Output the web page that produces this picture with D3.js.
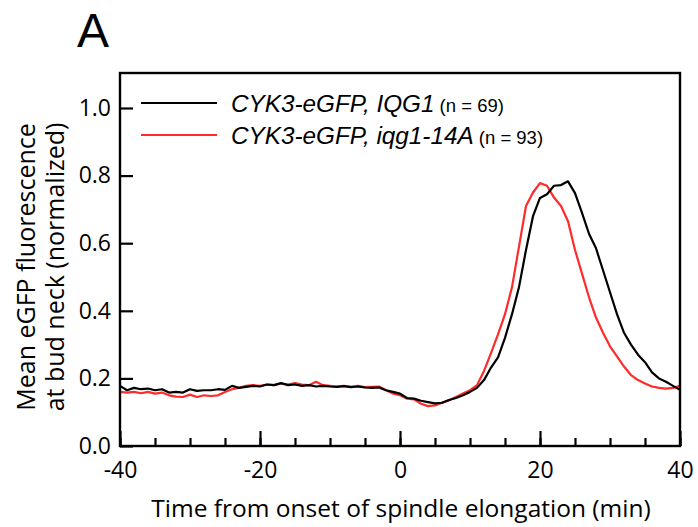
<!DOCTYPE html>
<html>
<head>
<meta charset="utf-8">
<script src="https://cdn.jsdelivr.net/npm/d3@7"></script>
<style>
  body { margin: 0; background: #fff; }
  svg { display: block; }
</style>
</head>
<body>
<div id="chart"></div>
<script>
// time from onset of spindle elongation (min)
var times = d3.range(-40, 41, 1)

// CYK3-eGFP, IQG1 (n = 69)
var wildType = [
	0.178, 0.165, 0.172, 0.168, 0.170, 0.165, 0.168, 0.158, 0.160, 0.158,
	0.168, 0.163, 0.165, 0.165, 0.168, 0.166, 0.178, 0.172, 0.175, 0.178,
	0.176, 0.182, 0.180, 0.186, 0.180, 0.182, 0.178, 0.180, 0.176, 0.178,
	0.176, 0.175, 0.177, 0.174, 0.176, 0.173, 0.172, 0.173, 0.165, 0.160,
	0.155, 0.142, 0.140, 0.134, 0.130, 0.126, 0.128, 0.136, 0.142, 0.150,
	0.160, 0.172, 0.195, 0.232, 0.262, 0.320, 0.390, 0.470, 0.580, 0.680,
	0.734, 0.745, 0.770, 0.772, 0.783, 0.748, 0.690, 0.628, 0.585, 0.520,
	0.455, 0.390, 0.335, 0.300, 0.270, 0.248, 0.218, 0.200, 0.190, 0.178,
	0.166
]

// CYK3-eGFP, iqg1-14A (n = 93)
var mutant = [
	0.160, 0.158, 0.160, 0.156, 0.160, 0.155, 0.158, 0.150, 0.146, 0.145,
	0.152, 0.145, 0.150, 0.148, 0.150, 0.160, 0.168, 0.172, 0.178, 0.180,
	0.178, 0.182, 0.180, 0.185, 0.182, 0.186, 0.182, 0.180, 0.190, 0.180,
	0.178, 0.176, 0.178, 0.175, 0.178, 0.174, 0.175, 0.176, 0.165, 0.155,
	0.150, 0.140, 0.138, 0.125, 0.118, 0.120, 0.128, 0.135, 0.145, 0.155,
	0.165, 0.180, 0.222, 0.275, 0.330, 0.390, 0.470, 0.590, 0.710, 0.750,
	0.778, 0.770, 0.735, 0.710, 0.665, 0.580, 0.510, 0.440, 0.380, 0.335,
	0.295, 0.265, 0.235, 0.210, 0.195, 0.185, 0.176, 0.172, 0.170, 0.172,
	0.178
]

var seriesNames = ["CYK3-eGFP, IQG1", "CYK3-eGFP, iqg1-14A"]
var seriesCounts = ["(n = 69)", "(n = 93)"]
var seriesColors = ["#000000", "#ff2b2b"]

var xTicks = [-40, -20, 0, 20, 40]
var yTicks = [0, 0.2, 0.4, 0.6, 0.8, 1.0]

var chart = {
	width: 698,
	height: 527,
	left: 120,
	right: 680,
	top: 73,
	bottom: 446
}

var svg = d3.select("#chart")
	.append("svg")
	.attr("width", chart.width)
	.attr("height", chart.height)

var x = d3.scaleLinear().domain([-40, 40]).range([chart.left, chart.right])
var y = d3.scaleLinear().domain([0, 1]).range([chart.bottom, 108])

// panel letter
svg.append("text")
	.attr("x", 77)
	.attr("y", 47)
	.attr("font-family", "Liberation Sans, Arial, sans-serif")
	.attr("font-size", 48)
	.text("A")

// lines
var line = d3.line()
	.x(function(d, i) { return x(times[i]) })
	.y(function(d) { return y(d) })

svg.selectAll("path.series")
	.data([mutant, wildType])
	.enter()
	.append("path")
	.attr("class", "series")
	.attr("fill", "none")
	.attr("stroke", function(d, i) { return i == 0 ? seriesColors[1] : seriesColors[0] })
	.attr("stroke-width", 2.2)
	.attr("stroke-linejoin", "round")
	.attr("d", line)

// frame
svg.append("rect")
	.attr("x", chart.left)
	.attr("y", chart.top)
	.attr("width", chart.right - chart.left)
	.attr("height", chart.bottom - chart.top)
	.attr("fill", "none")
	.attr("stroke", "#000")
	.attr("stroke-width", 2.4)

// x axis, ticks pointing inward
var xAxisMinor = d3.axisTop(x)
	.tickValues(d3.range(-40, 41, 5))
	.tickSize(8)
	.tickFormat("")
var xAxis = d3.axisTop(x)
	.tickValues(xTicks)
	.tickSize(15)
	.tickFormat(d3.format("d"))

svg.append("g")
	.attr("transform", "translate(0," + chart.bottom + ")")
	.call(xAxisMinor)
	.call(function(g) { g.select(".domain").remove() })
	.selectAll("line").attr("stroke-width", 2.2)

var gx = svg.append("g")
	.attr("transform", "translate(0," + chart.bottom + ")")
	.call(xAxis)
gx.select(".domain").remove()
gx.selectAll("line").attr("stroke-width", 2.2)
gx.selectAll("text")
	.attr("y", 32)
	.attr("dy", 0)
	.attr("font-family", "Open Sans, sans-serif")
	.attr("font-size", 23)
	.attr("fill", "#000")
	.text(function(d) { return d < 0 ? "-" + Math.abs(d) : d })

// y axis, ticks pointing inward
var yAxis = d3.axisRight(y)
	.tickValues(yTicks)
	.tickSize(13)
	.tickFormat(d3.format(".1f"))

var gy = svg.append("g")
	.attr("transform", "translate(" + chart.left + ",0)")
	.call(yAxis)
gy.select(".domain").remove()
gy.selectAll("line").attr("stroke-width", 2.2)
gy.selectAll("text")
	.attr("x", -9)
	.attr("text-anchor", "end")
	.attr("font-family", "Open Sans, sans-serif")
	.attr("font-size", 23)
	.attr("fill", "#000")

// axis titles
svg.append("text")
	.attr("x", 401)
	.attr("y", 517)
	.attr("text-anchor", "middle")
	.attr("font-family", "Open Sans, sans-serif")
	.attr("font-size", 24.5)
	.text("Time from onset of spindle elongation (min)")

var yTitle = svg.append("text")
	.attr("transform", "translate(35,267) rotate(-90)")
	.attr("text-anchor", "middle")
	.attr("font-family", "Open Sans, sans-serif")
	.attr("font-size", 25)
yTitle.append("tspan").attr("x", 0).attr("dy", 0).text("Mean eGFP fluorescence")
yTitle.append("tspan").attr("x", 0).attr("dy", 29).text("at bud neck (normalized)")

// legend
var legend = svg.selectAll("g.legend")
	.data(seriesNames)
	.enter()
	.append("g")
	.attr("class", "legend")
	.attr("transform", function(d, i) { return "translate(0," + (103 + i * 32) + ")" })

legend.append("line")
	.attr("x1", 141)
	.attr("x2", 217)
	.attr("stroke", function(d, i) { return seriesColors[i] })
	.attr("stroke-width", 2.2)

var legendText = legend.append("text")
	.attr("x", 231)
	.attr("y", 9)
	.attr("font-family", "Liberation Sans, Arial, sans-serif")
	.attr("font-size", 24.3)
legendText.append("tspan")
	.attr("font-style", "italic")
	.text(function(d) { return d })
legendText.append("tspan")
	.attr("font-size", 18.5)
	.text(function(d, i) { return " " + seriesCounts[i] })
</script>
</body>
</html>
